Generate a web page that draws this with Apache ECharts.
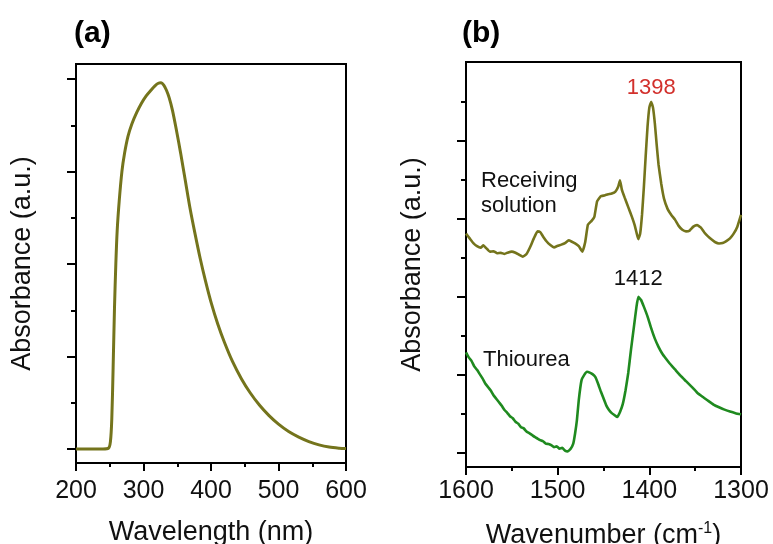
<!DOCTYPE html>
<html>
<head>
<meta charset="utf-8">
<script src="https://cdn.jsdelivr.net/npm/echarts@6/dist/echarts.min.js"></script>
<style>
  html, body { margin: 0; padding: 0; background: #fff; }
  #chart { width: 773px; height: 544px; }
</style>
</head>
<body>
<div id="chart"></div>
<script>
// (a) UV-vis absorption spectrum (normalised)
var uvWavelength = [200, 220, 240, 248, 251, 253, 255, 257, 259, 261, 264, 268, 272, 277, 283, 290, 297, 304, 311, 317, 322, 326, 330, 334, 338, 343, 349, 355, 362, 369, 376, 384, 392, 400, 410, 420, 432, 445, 458, 472, 486, 500, 515, 530, 545, 560, 575, 590, 600];
var uvAbsorbance = [0, 0, 0, 0.002, 0.02, 0.08, 0.22, 0.38, 0.5, 0.59, 0.67, 0.75, 0.80, 0.845, 0.88, 0.91, 0.935, 0.955, 0.97, 0.982, 0.989, 0.99, 0.984, 0.97, 0.95, 0.915, 0.86, 0.80, 0.725, 0.65, 0.585, 0.515, 0.453, 0.397, 0.338, 0.288, 0.236, 0.19, 0.152, 0.118, 0.09, 0.067, 0.047, 0.032, 0.02, 0.011, 0.005, 0.002, 0.001];

// (b) FTIR spectra, offset for clarity
var recvWavenumber = [1600, 1596, 1592, 1588, 1584, 1581, 1578, 1574, 1570, 1566, 1562, 1558, 1554, 1550, 1546, 1542, 1538, 1534, 1530, 1526, 1522, 1519, 1516, 1512, 1508, 1504, 1500, 1496, 1492, 1488, 1485, 1481, 1477, 1473, 1470, 1467, 1463, 1460, 1457, 1453, 1449, 1445, 1441, 1437, 1434, 1432, 1430, 1427, 1423, 1419, 1416, 1414, 1412, 1410, 1408, 1406, 1404, 1402, 1400, 1398, 1396, 1394, 1392, 1390, 1387, 1384, 1380, 1376, 1372, 1368, 1364, 1360, 1356, 1352, 1348, 1344, 1340, 1336, 1332, 1328, 1324, 1320, 1316, 1312, 1308, 1304, 1300];
var recvAbsorbance = [5.62, 5.50, 5.38, 5.30, 5.26, 5.32, 5.25, 5.16, 5.17, 5.12, 5.13, 5.10, 5.14, 5.16, 5.13, 5.08, 5.03, 5.10, 5.28, 5.50, 5.68, 5.66, 5.55, 5.42, 5.33, 5.27, 5.31, 5.34, 5.38, 5.45, 5.42, 5.37, 5.30, 5.16, 5.40, 5.85, 5.95, 6.05, 6.45, 6.58, 6.60, 6.63, 6.65, 6.70, 6.82, 6.99, 6.75, 6.55, 6.30, 6.05, 5.84, 5.65, 5.48, 5.62, 6.10, 6.80, 7.60, 8.35, 8.85, 9.0, 8.85, 8.45, 7.90, 7.40, 6.90, 6.52, 6.25, 6.10, 5.98, 5.82, 5.72, 5.68, 5.70, 5.80, 5.84, 5.78, 5.65, 5.55, 5.47, 5.40, 5.37, 5.38, 5.43, 5.50, 5.62, 5.80, 6.10];

var thioWavenumber = [1600, 1597, 1594, 1591, 1588, 1585, 1582, 1579, 1576, 1573, 1570, 1567, 1564, 1561, 1558, 1555, 1552, 1549, 1546, 1543, 1540, 1537, 1534, 1531, 1528, 1525, 1522, 1519, 1516, 1513, 1510, 1507, 1504, 1501, 1498, 1495, 1492, 1489, 1486, 1483, 1481, 1479, 1477, 1474, 1471, 1468, 1465, 1462, 1459, 1456, 1453, 1450, 1447, 1444, 1441, 1438, 1435, 1432, 1429, 1426, 1423, 1420, 1417, 1414, 1412, 1409, 1406, 1402, 1398, 1394, 1390, 1386, 1382, 1378, 1372, 1366, 1360, 1354, 1348, 1342, 1336, 1330, 1324, 1318, 1312, 1306, 1300];
var thioAbsorbance = [2.58, 2.45, 2.36, 2.22, 2.13, 2.02, 1.91, 1.78, 1.69, 1.60, 1.48, 1.39, 1.30, 1.21, 1.10, 1.03, 0.94, 0.89, 0.80, 0.75, 0.66, 0.63, 0.55, 0.51, 0.46, 0.41, 0.37, 0.33, 0.30, 0.24, 0.23, 0.20, 0.15, 0.17, 0.11, 0.13, 0.06, 0.04, 0.10, 0.24, 0.50, 0.84, 1.35, 1.86, 2.00, 2.08, 2.06, 2.02, 1.95, 1.78, 1.58, 1.40, 1.22, 1.10, 1.02, 0.97, 0.92, 1.05, 1.25, 1.60, 2.05, 2.65, 3.20, 3.75, 4.0, 3.92, 3.75, 3.50, 3.20, 2.93, 2.72, 2.55, 2.42, 2.30, 2.14, 1.98, 1.84, 1.70, 1.55, 1.44, 1.34, 1.24, 1.17, 1.11, 1.06, 1.02, 0.99];

// axis tick positions (labels hidden on the absorbance axes)
var uvMajorTicks = [0, 0.25, 0.5, 0.75, 1];
var uvMinorTicks = [0.125, 0.375, 0.625, 0.875];
var irMajorTicks = [0, 2, 4, 6, 8];
var irMinorTicks = [1, 3, 5, 7, 9];

function zip(xs, ys) { return xs.map(function (x, i) { return [x, ys[i]]; }); }
function peakOf(xs, ys) {
  var k = 0;
  for (var i = 1; i < ys.length; i++) if (ys[i] > ys[k]) k = i;
  return [xs[k], ys[k]];
}

var FONT = '"Liberation Sans", Arial, sans-serif';
var OLIVE = '#74741c';
var GREEN = '#1f8a1f';
var TICK_STYLE = { color: '#000', width: 2 };

function yAxisPair(gridIndex, min, max, major, minor, nameGap) {
  return [
    {
      type: 'value', gridIndex: gridIndex, min: min, max: max,
      name: 'Absorbance (a.u.)', nameLocation: 'middle', nameGap: nameGap,
      nameTextStyle: { fontFamily: FONT, fontSize: 27, color: '#111' },
      axisLine: { show: true, onZero: false, lineStyle: { color: '#000', width: 2 } },
      axisTick: { show: true, inside: false, length: 9, customValues: major, lineStyle: TICK_STYLE },
      axisLabel: { show: false },
      splitLine: { show: false }
    },
    {
      type: 'value', gridIndex: gridIndex, min: min, max: max, position: 'left',
      axisLine: { show: false, onZero: false },
      axisTick: { show: true, inside: false, length: 5, customValues: minor, lineStyle: TICK_STYLE },
      axisLabel: { show: false },
      splitLine: { show: false }
    }
  ];
}

function xAxisBase(gridIndex, min, max, name, labelMargin, nameGap) {
  return {
    type: 'value', gridIndex: gridIndex, min: min, max: max, interval: 100,
    name: name, nameLocation: 'middle', nameGap: nameGap,
    nameTextStyle: {
      fontFamily: FONT, fontSize: 27, color: '#111',
      rich: { sup: { fontFamily: FONT, fontSize: 16, color: '#111', verticalAlign: 'top', padding: [0, 0, 14, 0] } }
    },
    axisLine: { onZero: false, lineStyle: { color: '#000', width: 2 } },
    axisTick: { show: true, length: 8, lineStyle: TICK_STYLE },
    minorTick: { show: true, splitNumber: 2, length: 4, lineStyle: TICK_STYLE },
    axisLabel: {
      fontFamily: FONT, fontSize: 25, color: '#111', margin: labelMargin,
      formatter: function (v) { return String(v); }
    },
    splitLine: { show: false }
  };
}

var recvPeak = peakOf(recvWavenumber, recvAbsorbance);
var thioPeak = peakOf(thioWavenumber, thioAbsorbance);

var axisB = xAxisBase(1, 1300, 1600, 'Wavenumber (cm{sup|-1})', 12, 54);
axisB.inverse = true;

var chart = echarts.init(document.getElementById('chart'), null, { renderer: 'canvas' });
chart.setOption({
  backgroundColor: '#fff',
  animation: false,
  grid: [
    { left: 76, top: 64, width: 270, height: 399, outerBoundsMode: 'none', containLabel: false,
      show: true, borderColor: '#000', borderWidth: 2, backgroundColor: 'transparent' },
    { left: 466, top: 62, width: 275, height: 405, outerBoundsMode: 'none', containLabel: false,
      show: true, borderColor: '#000', borderWidth: 2, backgroundColor: 'transparent' }
  ],
  xAxis: [
    xAxisBase(0, 200, 600, 'Wavelength (nm)', 16, 56),
    axisB
  ],
  yAxis: [].concat(
    yAxisPair(0, -0.038, 1.041, uvMajorTicks, uvMinorTicks, 40),
    yAxisPair(1, -0.36, 10.02, irMajorTicks, irMinorTicks, 40)
  ),
  series: [
    {
      type: 'line', xAxisIndex: 0, yAxisIndex: 0, data: zip(uvWavelength, uvAbsorbance),
      showSymbol: false, smooth: 0.3, lineStyle: { color: OLIVE, width: 3 }
    },
    {
      type: 'line', xAxisIndex: 1, yAxisIndex: 2, data: zip(recvWavenumber, recvAbsorbance),
      showSymbol: false, smooth: 0.12, lineStyle: { color: OLIVE, width: 2.6 },
      markPoint: {
        symbol: 'circle', symbolSize: 0,
        data: [{ coord: recvPeak, value: recvPeak[0] }],
        label: { show: true, position: 'top', distance: 3, formatter: '{c}', fontFamily: FONT, fontSize: 22, color: '#d2302c' }
      }
    },
    {
      type: 'line', xAxisIndex: 1, yAxisIndex: 2, data: zip(thioWavenumber, thioAbsorbance),
      showSymbol: false, smooth: 0.12, lineStyle: { color: GREEN, width: 2.6 },
      markPoint: {
        symbol: 'circle', symbolSize: 0,
        data: [{ coord: thioPeak, value: thioPeak[0] }],
        label: { show: true, position: 'top', distance: 2, offset: [0, -5], formatter: '{c}', fontFamily: FONT, fontSize: 22, color: '#111' }
      }
    }
  ],
  graphic: [
    { type: 'text', left: 74, top: 19, style: { text: '(a)', font: 'bold 30px ' + FONT, fill: '#000' } },
    { type: 'text', left: 462, top: 19, style: { text: '(b)', font: 'bold 30px ' + FONT, fill: '#000' } },
    { type: 'text', left: 481, top: 170, style: { text: 'Receiving', font: '22px ' + FONT, fill: '#111' } },
    { type: 'text', left: 481, top: 195, style: { text: 'solution', font: '22px ' + FONT, fill: '#111' } },
    { type: 'text', left: 483, top: 349, style: { text: 'Thiourea', font: '22px ' + FONT, fill: '#111' } }
  ]
});
</script>
</body>
</html>
